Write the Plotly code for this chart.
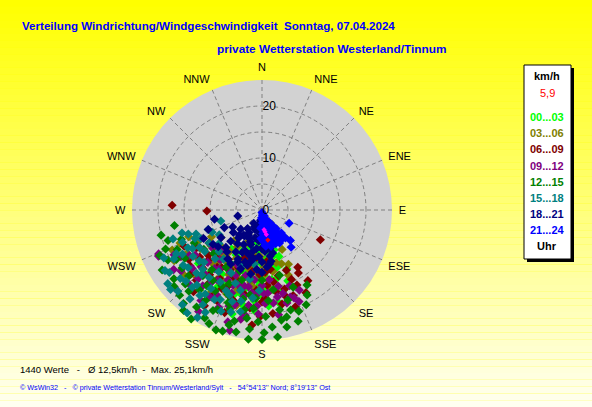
import plotly.graph_objects as go

W, H = 592, 407

# wind direction (deg) / speed (km/h) per 3h block
dir_00_03 = [157, 162, 165, 168, 170, 172, 175, 176, 178, 180, 182, 184, 186, 188, 190, 192, 194, 195, 196, 198,
             200, 200, 202, 205, 206, 208, 210, 212, 215, 218, 220, 160, 165, 170, 174, 178, 188, 192, 185, 163,
             168, 182, 200, 225, 230, 185, 190, 195, 200, 204, 210, 214, 172, 178, 180, 166, 160, 176, 184, 208,
             220, 197, 170]
spd_00_03 = [12.3, 11.0, 9.0, 13.5, 8.5, 11.5, 15.0, 9.5, 12.5, 16.5, 10.0, 13.5, 8.0, 11.5, 15.0, 15.5, 9.5, 12.5, 20.8, 17.0,
             18.9, 11.0, 14.0, 8.5, 16.0, 12.0, 10.0, 14.5, 18.0, 9.5, 13.0, 14.5, 16.0, 18.0, 6.5, 7.5, 6.5, 18.5, 17.5, 8.0,
             10.5, 14.5, 7.0, 12.0, 16.0, 12.0, 9.0, 16.5, 14.5, 10.5, 17.0, 12.0, 13.5, 15.5, 10.5, 11.5, 9.5, 18.5, 19.5, 19.0,
             16.0, 7.5, 6.0]

dir_03_06 = [246, 240, 238, 235, 232, 228, 223, 220, 218, 216, 214, 212, 210, 208, 205, 203, 200, 198, 196, 194,
             192, 190, 188, 186, 184, 182, 180, 178, 175, 172, 170, 165, 160, 154, 153, 158, 168, 225, 230, 212,
             195, 244, 250, 222, 205, 226, 221, 217, 213, 207, 201, 197, 193, 189, 183, 179, 174, 242, 236, 230,
             248, 240, 172]
spd_03_06 = [18.9, 16.6, 14.0, 12.0, 15.5, 10.5, 14.0, 11.5, 10.1, 16.5, 8.5, 13.0, 15.5, 10.5, 12.0, 17.5, 9.5, 14.0, 11.0, 16.0,
             8.5, 13.0, 10.5, 15.0, 12.0, 9.0, 14.5, 11.0, 13.5, 9.5, 12.0, 10.5, 11.0, 11.6, 8.5, 13.5, 15.0, 18.0, 19.5, 19.0,
             19.0, 13.5, 15.0, 8.0, 7.0, 16.0, 13.0, 12.0, 16.0, 14.0, 12.5, 16.0, 11.5, 14.0, 16.0, 12.5, 15.5, 11.0, 9.5, 13.5,
             17.0, 19.5, 7.5]

dir_06_09 = [273, 269, 117, 147, 150, 155, 158, 161, 164, 166, 168, 170, 172, 174, 176, 178, 180, 182, 184, 185,
             187, 190, 192, 194, 196, 198, 200, 202, 204, 206, 208, 210, 212, 214, 216, 218, 220, 222, 225, 228,
             230, 233, 236, 240, 245, 188, 200, 175, 160, 152, 186, 191, 195, 199, 203, 207, 211, 215, 219, 223,
             227, 232, 189, 181, 177, 171, 165, 157, 148, 238]
spd_06_09 = [17.3, 10.6, 12.6, 16.2, 14.0, 15.9, 12.5, 19.7, 15.8, 13.0, 18.5, 16.0, 11.5, 20.0, 14.5, 17.0, 17.7, 12.5, 15.5, 22.2,
             19.0, 13.5, 16.5, 11.0, 18.5, 14.5, 21.0, 12.0, 16.0, 19.5, 13.0, 19.3, 15.5, 11.5, 17.5, 14.0, 20.5, 12.5, 16.0, 18.5,
             13.5, 15.0, 17.0, 14.5, 16.5, 9.5, 10.0, 10.0, 17.5, 18.0, 17.0, 20.0, 15.5, 18.0, 14.0, 17.0, 21.5, 13.5, 16.0, 18.5,
             14.0, 17.5, 12.0, 20.5, 12.0, 14.0, 17.0, 14.5, 13.0, 12.0]

dir_09_12 = [247, 246, 240, 236, 232, 230, 226, 224, 222, 220, 218, 216, 214, 212, 210, 208, 206, 204, 202, 200,
             198, 197, 196, 194, 192, 191, 190, 188, 186, 184, 182, 180, 178, 176, 174, 171, 170, 168, 165, 162,
             160, 158, 155, 185, 205, 225, 195, 212, 236, 228, 193, 199, 203, 207, 211, 215, 219, 223, 227, 233,
             238, 243, 187, 183, 179, 173, 166, 160, 201, 189]
spd_09_12 = [21.6, 21.8, 18.0, 15.5, 12.0, 17.5, 14.5, 20.0, 16.5, 12.5, 18.5, 14.0, 21.0, 16.0, 13.0, 18.5, 15.0, 20.5, 13.5, 17.0,
             15.0, 22.5, 19.0, 13.0, 17.0, 21.4, 15.0, 18.5, 13.5, 16.5, 20.0, 14.5, 18.0, 16.0, 13.5, 20.4, 17.0, 15.0, 18.5, 17.6,
             15.5, 19.0, 17.0, 11.5, 11.5, 11.0, 24.0, 23.0, 20.5, 22.5, 15.0, 19.5, 17.0, 13.5, 19.5, 17.0, 14.5, 18.0, 16.0, 19.5,
             16.5, 19.0, 16.0, 18.5, 16.0, 18.0, 16.5, 18.0, 15.5, 20.5]

dir_12_15 = [260, 248, 239, 229, 224, 213, 205, 201, 180, 179, 173, 175, 167, 155, 149, 160, 152, 158, 164, 170,
             176, 182, 186, 190, 194, 198, 202, 206, 210, 214, 218, 222, 226, 230, 234, 238, 242, 245, 250, 236,
             228, 220, 212, 204, 196, 188, 180, 172, 165, 200, 215, 232, 244, 192, 185, 178, 168, 162, 208, 220,
             184, 188, 192, 196, 200, 204, 208, 212, 216, 222, 228, 240, 246, 252, 256, 218, 198, 186, 170, 164]
spd_12_15 = [17.1, 20.0, 22.4, 22.4, 22.8, 25.0, 24.1, 24.7, 24.9, 23.6, 24.6, 22.6, 21.1, 20.1, 16.8, 20.7, 18.5, 16.0, 18.0, 19.5,
             17.5, 21.5, 23.0, 19.5, 22.0, 20.0, 17.5, 21.5, 18.0, 22.5, 19.5, 17.0, 20.5, 15.5, 19.0, 17.5, 20.5, 18.0, 16.5, 13.5,
             12.5, 15.0, 13.0, 15.5, 14.0, 16.5, 13.5, 15.5, 13.0, 12.5, 16.5, 21.5, 14.5, 24.0, 19.0, 20.5, 23.0, 22.5, 23.5, 23.5,
             17.0, 21.0, 17.5, 23.0, 19.0, 21.0, 16.5, 20.5, 18.0, 21.0, 19.0, 19.0, 21.5, 19.0, 20.0, 24.5, 24.5, 25.0, 21.5, 20.0]

dir_15_18 = [255, 252, 250, 248, 245, 243, 241, 241, 241, 238, 236, 234, 232, 230, 229, 228, 226, 225, 224, 222,
             221, 220, 218, 216, 215, 213, 212, 211, 210, 208, 206, 204, 202, 200, 198, 195, 192, 190, 186, 182,
             246, 240, 232, 226, 236, 244, 252, 218, 200, 188, 247, 243, 239, 235, 231, 227, 223, 219, 214, 209,
             205, 201, 197, 193, 250, 238, 232, 226, 216, 254]
spd_15_18 = [8.2, 14.9, 11.0, 16.5, 13.0, 18.5, 17.5, 15.3, 19.4, 12.0, 16.0, 13.6, 18.0, 20.5, 23.3, 15.0, 17.5, 16.1, 13.0, 20.0,
             19.1, 23.8, 16.5, 20.3, 14.5, 18.0, 21.5, 24.1, 16.0, 19.5, 13.5, 17.0, 21.0, 15.0, 18.5, 16.0, 20.0, 13.5, 17.0, 15.5,
             10.5, 9.5, 10.5, 11.5, 21.5, 21.0, 18.0, 12.0, 11.5, 10.5, 14.0, 16.0, 14.0, 18.5, 15.5, 20.0, 17.0, 22.0, 19.5, 22.5,
             19.0, 17.5, 20.5, 18.0, 13.5, 22.0, 23.0, 22.5, 24.5, 16.0]

dir_18_21 = [259, 256, 250, 245, 240, 236, 232, 228, 225, 222, 220, 218, 216, 214, 212, 210, 208, 206, 204, 202,
             200, 198, 196, 194, 192, 190, 188, 186, 184, 182, 180, 178, 176, 174, 172, 170, 168, 166, 215, 210,
             205, 200, 195, 190, 185, 180, 175, 170, 220, 212, 204, 196, 188, 182, 176, 200, 192, 186, 178, 208,
             216, 224, 230, 198, 172, 180, 190, 205, 235, 244]
spd_18_21 = [9.3, 4.8, 11.0, 8.0, 6.5, 9.5, 7.0, 5.5, 8.5, 6.5, 10.5, 4.5, 8.0, 6.0, 9.5, 5.0, 7.5, 10.5, 6.0, 8.5,
             4.0, 7.0, 9.0, 5.5, 10.0, 3.5, 7.5, 6.0, 9.0, 2.5, 10.0, 5.0, 8.0, 6.5, 10.5, 9.0, 7.5, 8.5, 11.5, 12.0,
             11.0, 12.0, 11.0, 12.5, 11.5, 12.0, 11.0, 10.0, 7.0, 3.0, 3.5, 3.0, 2.0, 5.5, 3.5, 6.5, 8.0, 4.5, 7.0, 5.5,
             6.0, 10.0, 11.0, 10.5, 6.0, 7.5, 9.5, 9.0, 11.5, 12.5]

dir_21_24 = [180, 175, 170, 165, 160, 178, 170, 162, 155, 150, 176, 168, 158, 148, 145, 172, 165, 155, 150, 142,
             178, 170, 162, 158, 146, 140, 175, 166, 152, 180, 178, 160, 150, 145, 140, 168, 156, 162, 172, 165,
             155, 148, 170, 158, 180, 176, 143, 152, 160, 174, 183, 184, 182, 116, 137, 142]
spd_21_24 = [0.5, 1.0, 1.5, 2.0, 2.2, 2.5, 3.0, 3.2, 3.5, 4.0, 3.8, 4.2, 4.6, 5.0, 5.5, 5.0, 5.4, 5.8, 6.2, 6.5,
             6.0, 6.4, 6.6, 7.0, 6.8, 7.0, 6.8, 7.2, 7.2, 1.8, 4.5, 1.2, 2.8, 3.8, 5.8, 5.8, 5.0, 4.0, 2.2, 3.0,
             2.5, 3.0, 0.8, 1.8, 3.2, 5.4, 4.5, 6.5, 6.0, 7.0, 1.5, 3.5, 5.5, 5.8, 8.0, 9.1]

# last readings (magenta) and current value (red)
dir_recent = [172, 170, 174]
spd_recent = [4.2, 4.8, 3.8]
dir_now = [169]
spd_now = [5.9]

groups = [
    (dir_00_03, spd_00_03, '#00ff00', 7),
    (dir_03_06, spd_03_06, '#808000', 7),
    (dir_06_09, spd_06_09, '#800000', 7),
    (dir_09_12, spd_09_12, '#800080', 7),
    (dir_12_15, spd_12_15, '#008000', 7),
    (dir_15_18, spd_15_18, '#008080', 7),
    (dir_18_21, spd_18_21, '#000080', 7),
    (dir_21_24, spd_21_24, '#0000ff', 7),
    (dir_recent, spd_recent, '#ff00ff', 4),
    (dir_now, spd_now, '#ff0000', 4),
]

legend_labels = ['00...03', '03...06', '06...09', '09...12', '12...15', '15...18', '18...21', '21...24']
legend_colors = ['#00ff00', '#808000', '#800000', '#800080', '#008000', '#008080', '#000080', '#0000ff']

compass = ['N', 'NNE', 'NE', 'ENE', 'E', 'ESE', 'SE', 'SSE',
           'S', 'SSW', 'SW', 'WSW', 'W', 'WNW', 'NW', 'NNW']
compass_deg = [i * 22.5 for i in range(16)]
speed_ticks = [0, 5, 10, 15, 20]
speed_labels = ['0', '', '10', '', '20']


def px(x):
    return x / W


def py(y):
    return 1 - y / H


fig = go.Figure()
for d, s, c, sz in groups:
    fig.add_trace(go.Scatterpolar(r=s, theta=d, mode='markers',
                                  marker=dict(symbol='diamond', size=sz, color=c, line=dict(width=0)),
                                  showlegend=False, hoverinfo='skip'))

# yellow gradient background
shapes = []
n = 60
for i in range(n):
    t = i / (n - 1)
    b = int(0 + 240 * t)
    shapes.append(dict(type='rect', xref='paper', yref='paper', x0=0, x1=1,
                       y0=1 - (i + 1) / n, y1=1 - i / n, layer='below',
                       line=dict(width=0), fillcolor='rgb(255,255,%d)' % b))

# legend box with shadow
shapes.append(dict(type='rect', xref='paper', yref='paper', x0=px(527), x1=px(574), y0=py(262), y1=py(68),
                   line=dict(width=0), fillcolor='#000000', layer='above'))
shapes.append(dict(type='rect', xref='paper', yref='paper', x0=px(524), x1=px(571), y0=py(259), y1=py(65),
                   line=dict(width=1, color='#000000'), fillcolor='#ffffff', layer='above'))

font = 'Liberation Sans, Arial, sans-serif'
annotations = [
    dict(text='<b>Verteilung Windrichtung/Windgeschwindigkeit  Sonntag, 07.04.2024</b>', x=px(20), y=py(25),
         xanchor='left', yanchor='middle', font=dict(size=11.6, color='#0000ff', family=font)),
    dict(text='<b>private Wetterstation Westerland/Tinnum</b>', x=px(215), y=py(49),
         xanchor='left', yanchor='middle', font=dict(size=11.8, color='#0000ff', family=font)),
    dict(text='1440 Werte   -   Ø 12,5km/h  -  Max. 25,1km/h', x=px(18), y=py(369),
         xanchor='left', yanchor='middle', font=dict(size=9.5, color='#000000', family=font)),
    dict(text='© WsWin32   -   © private Wetterstation Tinnum/Westerland/Sylt   -   54°54\'13\'\' Nord; 8°19\'13\'\' Ost',
         x=px(18), y=py(387), xanchor='left', yanchor='middle', font=dict(size=7.2, color='#0000ff', family=font)),
    dict(text='<b>km/h</b>', x=px(547), y=py(76), xanchor='center', yanchor='middle',
         font=dict(size=11, color='#000000', family=font)),
    dict(text='5,9', x=px(547), y=py(93), xanchor='center', yanchor='middle',
         font=dict(size=11, color='#ff0000', family=font)),
    dict(text='<b>Uhr</b>', x=px(547), y=py(246), xanchor='center', yanchor='middle',
         font=dict(size=11, color='#000000', family=font)),
]
for i, (lab, col) in enumerate(zip(legend_labels, legend_colors)):
    annotations.append(dict(text='<b>%s</b>' % lab, x=px(547), y=py(117 + i * 16.2), xanchor='center',
                            yanchor='middle', font=dict(size=11, color=col, family=font)))
for a in annotations:
    a.update(xref='paper', yref='paper', showarrow=False)

fig.update_layout(
    width=W, height=H,
    margin=dict(l=0, r=0, t=0, b=0),
    paper_bgcolor='#ffff00',
    shapes=shapes,
    annotations=annotations,
    polar=dict(
        domain=dict(x=[px(132), px(392)], y=[py(340), py(80)]),
        bgcolor='#d2d2d2',
        angularaxis=dict(direction='clockwise', rotation=90, tickmode='array',
                         tickvals=compass_deg, ticktext=compass, showline=False,
                         ticks='outside', ticklen=4, tickcolor='rgba(0,0,0,0)',
                         gridcolor='#808080', griddash='4px,3px', gridwidth=1,
                         tickfont=dict(size=11, color='#000000', family=font)),
        radialaxis=dict(range=[0, 25], angle=90, tickangle=90, side='clockwise',
                        tickmode='array', tickvals=speed_ticks,
                        ticktext=speed_labels, showline=False, ticks='',
                        gridcolor='#808080', griddash='4px,3px', gridwidth=1,
                        tickfont=dict(size=12, color='#000000', family=font)),
    ),
)

fig.write_html('out.html', config={'displayModeBar': False},
               post_script="document.body.style.margin='0px';")
